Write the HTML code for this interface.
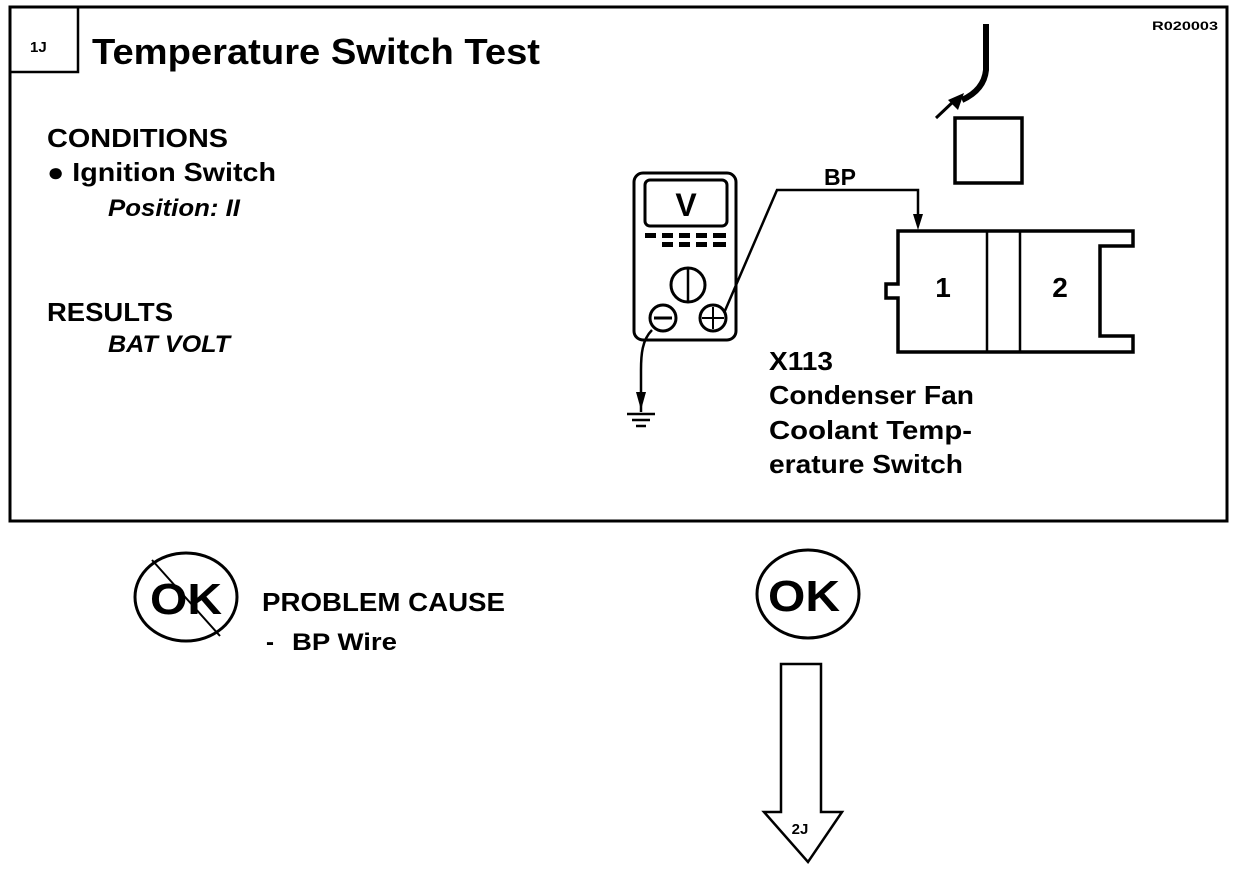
<!DOCTYPE html>
<html><head><meta charset="utf-8"><style>
html,body{margin:0;padding:0;background:#fff}
body{width:1248px;height:870px;overflow:hidden}
text{font-family:"Liberation Sans",Arial,sans-serif;font-weight:bold;fill:#000}
</style></head><body>
<svg width="1248" height="870" viewBox="0 0 1248 870" xmlns="http://www.w3.org/2000/svg">
<g fill="none" stroke="#000">
<rect x="10" y="7" width="1217" height="514" stroke-width="3"/>
<polyline points="10,72 78,72 78,7" stroke-width="2.5"/>
<rect x="634" y="173" width="102" height="167" rx="9" stroke-width="3"/>
<rect x="645" y="180" width="82" height="46" rx="5" stroke-width="3"/>
<circle cx="688" cy="285" r="17" stroke-width="3"/>
<line x1="688" y1="268" x2="688" y2="302" stroke-width="2.5"/>
<circle cx="663" cy="318" r="13" stroke-width="3"/>
<line x1="654" y1="318" x2="672" y2="318" stroke-width="3"/>
<circle cx="713" cy="318" r="13" stroke-width="3"/>
<line x1="702" y1="318" x2="724" y2="318" stroke-width="2"/>
<line x1="713" y1="307" x2="713" y2="329" stroke-width="2"/>
<polyline points="724,313 777,190 918,190 918,224" stroke-width="2.5"/>
<path d="M652,330 C642,340 641,355 641,370 L641,412" stroke-width="2.5"/>
<line x1="627" y1="414" x2="655" y2="414" stroke-width="2.5"/>
<line x1="632" y1="420" x2="650" y2="420" stroke-width="2.5"/>
<line x1="636" y1="426" x2="646" y2="426" stroke-width="2.5"/>
<path d="M898,231 L1133,231 L1133,246 L1100,246 L1100,336 L1133,336 L1133,352 L898,352 L898,298 L886,298 L886,284 L898,284 Z" stroke-width="3.5"/>
<line x1="987" y1="231" x2="987" y2="352" stroke-width="2.5"/>
<line x1="1020" y1="231" x2="1020" y2="352" stroke-width="2.5"/>
<rect x="955" y="118" width="67" height="65" stroke-width="3.5"/>
<path d="M986,24 L986,70 Q984,90 962,100" stroke-width="6"/>
<ellipse cx="186" cy="597" rx="51" ry="44" stroke-width="3"/>
<line x1="152" y1="560" x2="220" y2="636" stroke-width="2"/>
<ellipse cx="808" cy="594" rx="51" ry="44" stroke-width="3"/>
<path d="M781,664 L821,664 L821,812 L842,812 L808,862 L764,812 L781,812 Z" stroke-width="2.5"/>
</g>
<g fill="#000">
<rect x="645" y="233" width="11" height="5"/><rect x="662" y="233" width="11" height="5"/><rect x="679" y="233" width="11" height="5"/><rect x="696" y="233" width="11" height="5"/><rect x="713" y="233" width="13" height="5"/>
<rect x="662" y="242" width="11" height="5"/><rect x="679" y="242" width="11" height="5"/><rect x="696" y="242" width="11" height="5"/><rect x="713" y="242" width="13" height="5"/>
<polygon points="913,214 923,214 918,230"/>
<polygon points="636,392 646,392 641,410"/>
<polygon points="948,100 964,93 958,110"/>
</g>
<line x1="936" y1="118" x2="955" y2="100" stroke="#000" stroke-width="3"/>
<text x="30" y="52" font-size="15">1J</text>
<text x="92" y="64" font-size="36" textLength="448" lengthAdjust="spacingAndGlyphs">Temperature Switch Test</text>
<text x="1152" y="30" font-size="12" font-weight="normal" textLength="66" lengthAdjust="spacingAndGlyphs">R020003</text>
<text x="47" y="147" font-size="26" textLength="181" lengthAdjust="spacingAndGlyphs">CONDITIONS</text>
<text x="47" y="181" font-size="26" textLength="229" lengthAdjust="spacingAndGlyphs">●  Ignition Switch</text>
<text x="108" y="216" font-size="24" font-style="italic" font-weight="normal" textLength="132" lengthAdjust="spacingAndGlyphs">Position: II</text>
<text x="47" y="321" font-size="26" textLength="126" lengthAdjust="spacingAndGlyphs">RESULTS</text>
<text x="108" y="352" font-size="24" font-style="italic" font-weight="normal" textLength="122" lengthAdjust="spacingAndGlyphs">BAT VOLT</text>
<text x="686" y="216" font-size="32" text-anchor="middle">V</text>
<text x="840" y="185" font-size="23" text-anchor="middle">BP</text>
<text x="943" y="297" font-size="28" font-weight="normal" text-anchor="middle">1</text>
<text x="1060" y="297" font-size="28" font-weight="normal" text-anchor="middle">2</text>
<text x="769" y="370" font-size="26" textLength="64" lengthAdjust="spacingAndGlyphs">X113</text>
<text x="769" y="404" font-size="26" textLength="205" lengthAdjust="spacingAndGlyphs">Condenser Fan</text>
<text x="769" y="439" font-size="26" textLength="203" lengthAdjust="spacingAndGlyphs">Coolant Temp-</text>
<text x="769" y="473" font-size="26" textLength="194" lengthAdjust="spacingAndGlyphs">erature Switch</text>
<text x="150" y="614" font-size="44" textLength="72" lengthAdjust="spacingAndGlyphs">OK</text>
<text x="262" y="611" font-size="26" textLength="243" lengthAdjust="spacingAndGlyphs">PROBLEM CAUSE</text>
<text x="266" y="650" font-size="24">-</text>
<text x="292" y="650" font-size="24" textLength="105" lengthAdjust="spacingAndGlyphs">BP Wire</text>
<text x="768" y="611" font-size="44" textLength="72" lengthAdjust="spacingAndGlyphs">OK</text>
<text x="800" y="834" font-size="15" text-anchor="middle">2J</text>
</svg>
</body></html>
